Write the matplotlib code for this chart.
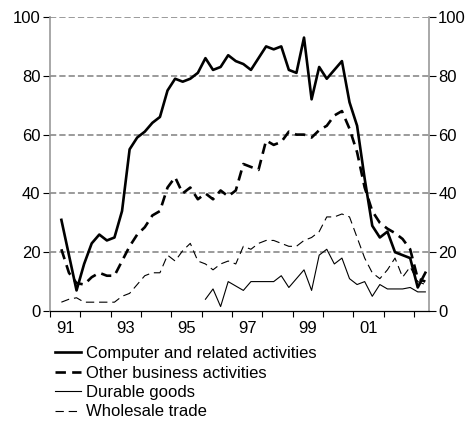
import numpy as np
import matplotlib
matplotlib.use("Agg")
import matplotlib.pyplot as plt

plt.rcParams['font.family'] = ['Liberation Sans', 'DejaVu Sans']
plt.rcParams['lines.scale_dashes'] = False

# quarterly series, starting 1991 Q2 (index 0)
start_year = 1991.375
computer = [31, 19, 7, 16, 23, 26, 24, 25, 34, 55, 59, 61, 64, 66, 75, 79,
            78, 79, 81, 86, 82, 83, 87, 85, 84, 82, 86, 90, 89, 90, 82, 81,
            93, 72, 83, 79, 82, 85, 71, 63, 45, 29, 25, 27, 20, 19, 18, 8, 13]
other_business = [21, 13, 9.5, 9, 11.5, 13, 12, 12, 17, 22, 26, 28.5, 32.5, 34, 42, 45.5,
                  40, 42, 38, 40, 38, 41, 39, 41, 50, 49, 48, 58, 56.5, 57.5, 61, 60,
                  60, 59, 61.5, 63, 66.5, 68, 62, 54, 42, 34, 30, 28, 26.5, 24.5, 21, 11, 10]
durable = [None] * 19 + [4, 7.5, 1.5, 10, 8.5, 7, 10, 10, 10, 10, 12, 8,
                         11, 14, 7, 19, 21, 16, 18, 11, 9, 10, 5, 9, 7.5, 7.5, 7.5, 8, 6.5, 6.5]
wholesale = [3, 4, 4.5, 3, 3, 3, 3, 3, 5, 6, 9, 12, 13, 13, 19, 17,
             20.5, 23, 17, 16, 14, 16, 17, 16, 22, 21, 23, 24, 24, 23, 22, 22,
             24, 25, 27, 32, 32, 33, 32, 25, 18, 13, 11, 14, 18, 11.5, 15, 10, 9]

year_labels = ["91", "93", "95", "97", "99", "01"]
label_years = [1991, 1993, 1995, 1997, 1999, 2001]


def to_arr(vals):
    return np.array([np.nan if v is None else v for v in vals], dtype=float)


t = start_year + 0.25 * np.arange(len(computer))

fig = plt.figure(figsize=(4.70, 4.21), dpi=100)
ax = fig.add_axes([50 / 470, 110 / 421, 378.5 / 470, 294 / 421])

# grid
for yv in [20, 40, 60, 80, 100]:
    ax.axhline(yv, color="#808080", lw=1.1, ls=(0, (4.5, 2.2)), zorder=1)

ax.plot(t, to_arr(computer), color="black", lw=1.9, zorder=5,
        label="Computer and related activities")
ax.plot(t, to_arr(other_business), color="black", lw=1.9, ls=(0, (7.5, 4.5)), zorder=4,
        label="Other business activities")
ax.plot(t, to_arr(durable), color="black", lw=0.8, zorder=3,
        label="Durable goods")
ax.plot(t, to_arr(wholesale), color="black", lw=0.8, ls=(0, (6, 3.5)), zorder=3,
        label="Wholesale trade")

ax.set_xlim(1991, 1991 + 378.5 / 30.33)
ax.set_ylim(0, 100)

ax.set_xticks(np.arange(1991, 2004))
ax.set_xticklabels([])
ax.set_xticks([y + 0.5 for y in label_years], minor=True)
ax.set_xticklabels(year_labels, minor=True)
ax.tick_params(axis="x", which="major", direction="out", length=4, width=0.8, color="black")
ax.tick_params(axis="x", which="minor", length=0, pad=7, labelsize=12)

ax.set_yticks([0, 20, 40, 60, 80, 100])
ax.tick_params(axis="y", which="major", direction="out", length=5, width=0.8,
               labelsize=12, left=True, right=True, labelleft=True, labelright=True,
               color="black", pad=2)

ax.spines["top"].set_visible(False)
ax.spines["bottom"].set_color("black")
ax.spines["bottom"].set_linewidth(0.9)
for s in ["left", "right"]:
    ax.spines[s].set_color("#999999")
    ax.spines[s].set_linewidth(1.2)

fig.legend(loc="upper left", bbox_to_anchor=(55 / 470, 1 - 346 / 421),
           frameon=False, fontsize=12, handlelength=1.55, handletextpad=0.3,
           labelspacing=0.27, borderpad=0, borderaxespad=0)

fig.savefig("out.png", dpi=100)
